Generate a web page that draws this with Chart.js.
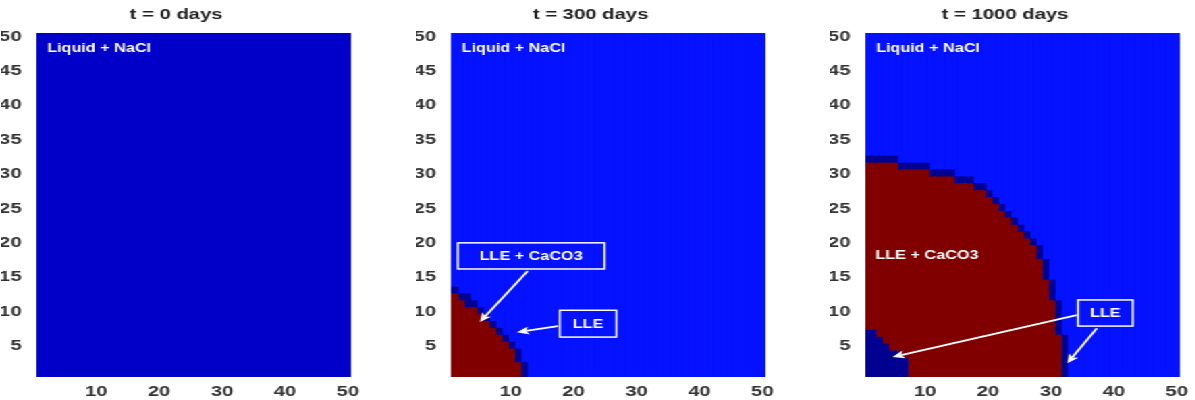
<!DOCTYPE html>
<html>
<head>
<meta charset="utf-8">
<script src="https://cdn.jsdelivr.net/npm/chart.js"></script>
<style>
  html, body { margin: 0; padding: 0; background: #fff; overflow: hidden; }
  /* the original figure is stretched sideways, so draw narrow and scale */
  #stage { position: absolute; left: 0; top: 0; width: 885px; height: 400px; transform: scaleX(1.35); transform-origin: 0 0; }
  .panel { position: absolute; top: 0; width: 269px; height: 400px; }
</style>
</head>
<body>
<div id="stage">
  <div class="panel" style="left:1px"><canvas id="c0"></canvas></div>
  <div class="panel" style="left:308px"><canvas id="c1"></canvas></div>
  <div class="panel" style="left:615px"><canvas id="c2"></canvas></div>
</div>
<script>
const titles = ['t = 0 days', 't = 300 days', 't = 1000 days']
const columns = Array.from({length: 50}, (_, i) => i + 1)
const xTicks = [10, 20, 30, 40, 50]
const yTicks = [5, 10, 15, 20, 25, 30, 35, 40, 45, 50]

// top row reached by each phase in every column, counted from the bottom (missing = none)
const lleTop0 = []
const caco3Top0 = []
const lleCore0 = []

const lleTop300 = [13, 12, 12, 11, 10, 9, 8, 7, 6, 5, 4, 2]
const caco3Top300 = [12, 11, 10, 10, 9, 8, 7, 6, 5, 4, 2]
const lleCore300 = []

const lleTop1000 = [32, 32, 32, 32, 32, 31, 31, 31, 31, 31, 30, 30, 30, 30, 29, 29, 29, 28, 28, 27,
  26, 25, 24, 23, 22, 21, 20, 19, 17, 14, 11, 6]
const caco3Top1000 = [31, 31, 31, 31, 31, 30, 30, 30, 30, 30, 29, 29, 29, 29, 28, 28, 28, 27, 27, 26,
  25, 24, 23, 22, 21, 20, 19, 17, 14, 11, 6]
const lleCore1000 = [7, 7, 6, 5, 4, 4, 3]

const liquidColors = ['#0000c9', '#0512ff', '#0512ff']
const lleColor = '#000090'
const caco3Color = '#800000'

const panels = [
  {lle: lleTop0, caco3: caco3Top0, core: lleCore0,
    texts: [{text: 'Liquid + NaCl', x: 2.2, y: 48.2}], boxes: [], arrows: []},
  {lle: lleTop300, caco3: caco3Top300, core: lleCore300,
    texts: [{text: 'Liquid + NaCl', x: 2.2, y: 48.2}],
    boxes: [{text: 'LLE + CaCO3', x0: 1.6, x1: 24.9, y0: 16.2, y1: 20.0},
            {text: 'LLE', x0: 17.8, x1: 26.8, y0: 6.3, y1: 10.2}],
    arrows: [[12.7, 15.9, 5.1, 8.5], [17.5, 7.9, 11.0, 7.0]]},
  {lle: lleTop1000, caco3: caco3Top1000, core: lleCore1000,
    texts: [{text: 'Liquid + NaCl', x: 2.2, y: 48.2}, {text: 'LLE + CaCO3', x: 2.1, y: 18.2}],
    boxes: [{text: 'LLE', x0: 34.3, x1: 43.0, y0: 7.9, y1: 11.7}],
    arrows: [[34.1, 9.5, 4.8, 3.4], [37.3, 7.6, 32.6, 2.5]]}
]

const noteFont = 'bold 12px "Liberation Sans", Arial, sans-serif'

function notes(p) {
  return {
    id: 'notes',
    afterDraw(chart) {
      const {ctx, scales: {x, y}} = chart
      const px = v => x.getPixelForValue(v - 1)
      const py = v => y.getPixelForValue(v)
      ctx.save()
      ctx.fillStyle = '#fff'
      ctx.strokeStyle = '#fff'
      ctx.font = noteFont
      ctx.textBaseline = 'middle'
      p.texts.forEach(t => {
        ctx.textAlign = 'left'
        ctx.fillText(t.text, px(t.x), py(t.y))
      })
      p.boxes.forEach(b => {
        const l = px(b.x0), r = px(b.x1), tp = py(b.y1), bt = py(b.y0)
        ctx.lineWidth = 1.5
        ctx.strokeRect(l, tp, r - l, bt - tp)
        ctx.textAlign = 'center'
        ctx.fillText(b.text, (l + r) / 2, (tp + bt) / 2 + 1)
      })
      p.arrows.forEach(a => {
        const x0 = px(a[0]), y0 = py(a[1]), x1 = px(a[2]), y1 = py(a[3])
        const ang = Math.atan2(y1 - y0, x1 - x0)
        const len = 9, half = 4
        const bx = x1 - Math.cos(ang) * len * 0.75, by = y1 - Math.sin(ang) * len * 0.75
        ctx.lineWidth = 1.8
        ctx.beginPath()
        ctx.moveTo(x0, y0)
        ctx.lineTo(bx, by)
        ctx.stroke()
        const cx = x1 - Math.cos(ang) * len, cy = y1 - Math.sin(ang) * len
        ctx.beginPath()
        ctx.moveTo(x1, y1)
        ctx.lineTo(cx - Math.sin(ang) * half, cy + Math.cos(ang) * half)
        ctx.lineTo(bx, by)
        ctx.lineTo(cx + Math.sin(ang) * half, cy - Math.cos(ang) * half)
        ctx.closePath()
        ctx.fill()
      })
      ctx.restore()
    }
  }
}

const tickFont = {family: '"Liberation Sans", Arial, sans-serif', size: 15, weight: 'bold'}

panels.forEach((p, k) => {
  const caco3 = columns.map((c, i) => p.caco3[i] ? [(p.core[i] || 0) + 0.5, p.caco3[i] + 0.5] : null)
  const lle = columns.map((c, i) => p.lle[i] ? [0.5, p.lle[i] + 0.5] : null)
  const liquid = columns.map(() => [0.5, 50.5])
  new Chart(document.getElementById('c' + k), {
    type: 'bar',
    data: {
      labels: columns,
      datasets: [
        {data: caco3, backgroundColor: caco3Color},
        {data: lle, backgroundColor: lleColor},
        {data: liquid, backgroundColor: liquidColors[k]}
      ]
    },
    options: {
      responsive: true,
      maintainAspectRatio: false,
      animation: false,
      layout: {padding: {left: 0, right: 10, top: 0, bottom: 0}},
      datasets: {bar: {barPercentage: 1, categoryPercentage: 1, grouped: false, borderWidth: 0, inflateAmount: 1}},
      plugins: {
        legend: {display: false},
        tooltip: {enabled: false},
        title: {
          display: true,
          text: titles[k],
          color: '#222',
          font: {family: '"Liberation Sans", Arial, sans-serif', size: 15, weight: 'bold'},
          padding: {top: 6, bottom: 9}
        }
      },
      scales: {
        x: {
          grid: {display: false},
          border: {display: false},
          ticks: {
            autoSkip: false, maxRotation: 0, padding: -2, color: '#333', font: tickFont,
            callback: (v, i) => xTicks.includes(columns[i]) ? String(columns[i]) : ''
          },
          afterFit: s => { s.height = 23 }
        },
        y: {
          min: 0.5,
          max: 50.5,
          grid: {display: false},
          border: {display: false},
          ticks: {padding: 3, color: '#333', font: tickFont, callback: v => String(v)},
          afterBuildTicks: s => { s.ticks = yTicks.map(v => ({value: v})) },
          afterFit: s => { s.width = 26 }
        }
      }
    },
    plugins: [notes(p)]
  })
})
</script>
</body>
</html>
